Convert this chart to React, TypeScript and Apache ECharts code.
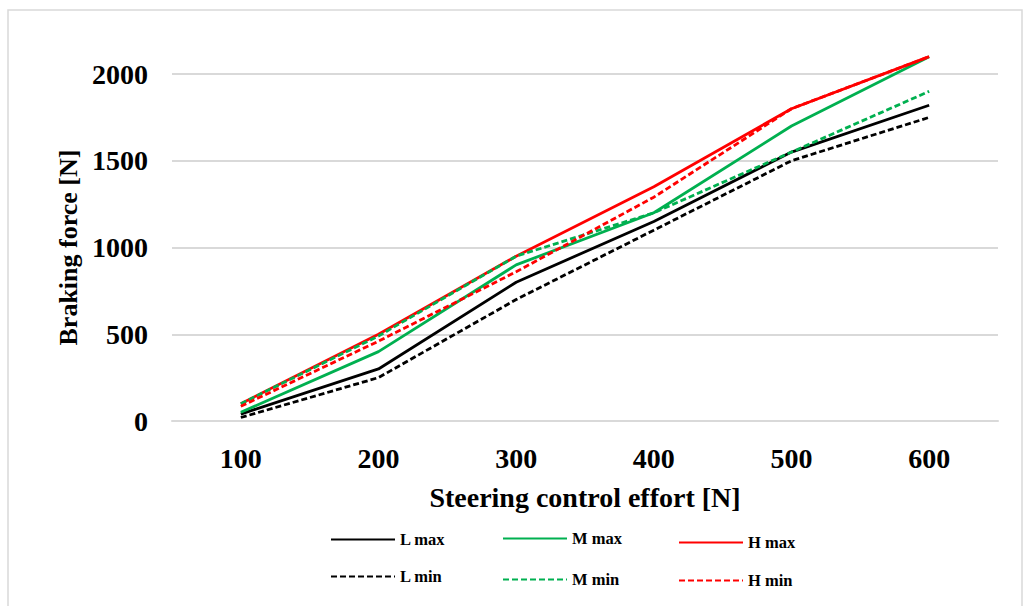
import React, { useEffect, useRef } from "react";
import * as echarts from "echarts";

const categories = ["100", "200", "300", "400", "500", "600"];
const lMax = [40, 300, 800, 1150, 1550, 1820];
const mMax = [50, 400, 900, 1200, 1700, 2100];
const hMax = [100, 500, 950, 1350, 1800, 2100];
const lMin = [20, 250, 700, 1100, 1500, 1750];
const mMin = [100, 490, 950, 1200, 1550, 1900];
const hMin = [85, 460, 860, 1290, 1800, 2100];

const BLACK = "#000000";
const GREEN = "#00b050";
const RED = "#ff0000";
const FONT = "'Liberation Serif', 'Times New Roman', serif";

export default function App() {
  const ref = useRef<HTMLDivElement>(null);
  useEffect(() => {
    if (!ref.current) return;
    const chart = echarts.init(ref.current, null, { renderer: "svg" });
    const mk = (name: string, data: number[], color: string, dashed: boolean) => ({
      name,
      type: "line",
      data,
      symbol: "none",
      clip: false,
      lineStyle: { color, width: 2.8, type: dashed ? [6, 3] : "solid" },
      itemStyle: { color },
    });
    const legendText = { fontFamily: FONT, fontWeight: "bold", fontSize: 16.5, color: "#000" };
    const mkLegend = (name: string, left: number, top: number) => ({
      data: [name],
      left,
      top,
      padding: 0,
      itemWidth: 64,
      itemHeight: 14,
      itemStyle: { opacity: 0 },
      textStyle: legendText,
      selectedMode: false,
    });
    chart.setOption({
      animation: false,
      backgroundColor: "#ffffff",
      graphic: [
        {
          type: "rect",
          shape: { x: 8, y: 10, width: 1014, height: 600 },
          style: { fill: "none", stroke: "#d9d9d9", lineWidth: 1.5 },
          silent: true,
        },
      ],
      grid: { left: 172, right: 31, top: 74, bottom: 185 },
      legend: [
        mkLegend("L max", 330, 531),
        mkLegend("L min", 330, 568),
        mkLegend("M max", 502, 530),
        mkLegend("M min", 502, 571),
        mkLegend("H max", 678, 534),
        mkLegend("H min", 678, 572),
      ],
      xAxis: {
        type: "category",
        data: categories,
        boundaryGap: true,
        axisLine: { lineStyle: { color: "#d9d9d9", width: 2 } },
        axisTick: { show: false },
        axisLabel: { fontFamily: FONT, fontWeight: "bold", fontSize: 28, color: "#000", margin: 23 },
        name: "Steering control effort [N]",
        nameLocation: "middle",
        nameGap: 62,
        nameTextStyle: { fontFamily: FONT, fontWeight: "bold", fontSize: 28, color: "#000" },
      },
      yAxis: {
        type: "value",
        min: 0,
        max: 2000,
        interval: 500,
        axisLine: { show: false },
        axisTick: { show: false },
        splitLine: { lineStyle: { color: "#d9d9d9", width: 2 } },
        axisLabel: {
          fontFamily: FONT,
          fontWeight: "bold",
          fontSize: 28,
          color: "#000",
          margin: 24,
          formatter: (v: number) => String(v),
        },
        name: "Braking force [N]",
        nameLocation: "middle",
        nameGap: 88,
        nameRotate: 90,
        nameTextStyle: { fontFamily: FONT, fontWeight: "bold", fontSize: 26, color: "#000" },
      },
      series: [
        mk("L max", lMax, BLACK, false),
        mk("M max", mMax, GREEN, false),
        mk("H max", hMax, RED, false),
        mk("L min", lMin, BLACK, true),
        mk("M min", mMin, GREEN, true),
        mk("H min", hMin, RED, true),
      ],
    });
    return () => chart.dispose();
  }, []);
  return (
    <div
      ref={ref}
      style={{ position: "absolute", left: 0, top: 0, width: 1029, height: 606 }}
    />
  );
}
